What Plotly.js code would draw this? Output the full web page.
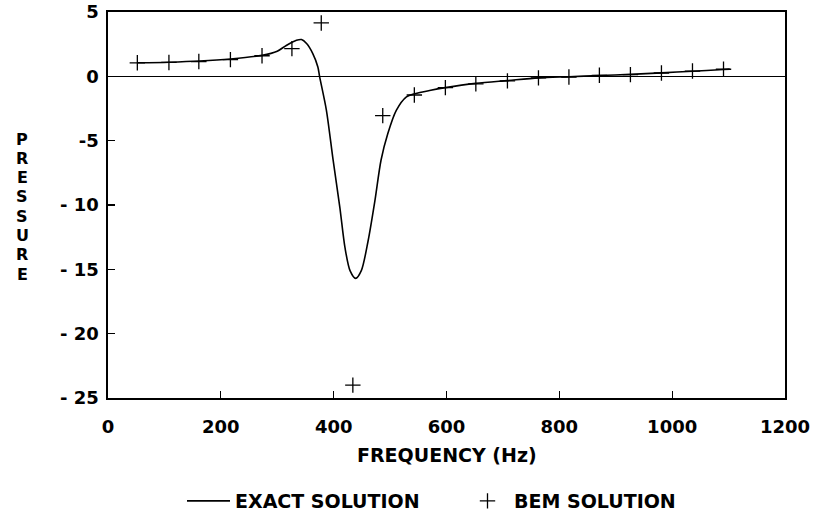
<!DOCTYPE html>
<html>
<head>
<meta charset="utf-8">
<script src="https://cdn.plot.ly/plotly-3.0.1.min.js"></script>
<style>
html,body{margin:0;padding:0;background:#fff;}
#chart{width:817px;height:521px;}
</style>
</head>
<body>
<div id="chart"></div>
<script>
// Exact solution
var exactFreq = [52, 108, 162, 217, 273, 300, 316, 334, 343, 352, 363, 372, 375, 387, 399, 411, 420, 429, 439, 449, 461, 473, 484, 496, 511, 529, 544, 570, 598, 652, 708, 763, 817, 871, 926, 981, 1036, 1091, 1102];
var exactPressure = [1.05, 1.1, 1.19, 1.35, 1.63, 1.95, 2.4, 2.8, 2.86, 2.55, 1.77, 0.73, 0.0, -2.6, -6.5, -10.2, -13.3, -15.1, -15.7, -15.1, -12.8, -9.7, -6.5, -4.45, -2.65, -1.6, -1.35, -1.1, -0.88, -0.55, -0.33, -0.12, -0.03, 0.06, 0.15, 0.27, 0.4, 0.53, 0.56];
// BEM solution
var bemFreq = [52, 108, 161, 217, 273, 326, 378, 434, 487, 543, 598, 652, 708, 763, 817, 871, 926, 981, 1036, 1091];
var bemPressure = [1.05, 1.08, 1.15, 1.3, 1.6, 2.15, 4.15, -24.0, -3.05, -1.45, -0.88, -0.58, -0.35, -0.12, -0.05, 0.08, 0.13, 0.26, 0.41, 0.55];
// Axis ticks
var xTickVals = [0, 200, 400, 600, 800, 1000, 1200];
var xTickText = ["0", "200", "400", "600", "800", "1000", "1200"];
var yTickVals = [5, 0, -5, -10, -15, -20, -25];
var yTickText = ["5", "0", "-5", "- 10", "- 15", "- 20", "- 25"];
var seriesNames = ["EXACT SOLUTION", "BEM SOLUTION"];
var xTitle = "FREQUENCY (Hz)";
var yTitle = "PRESSURE";

var FONT = "DejaVu Sans, Verdana, sans-serif";
var PLOT_H = 386, PLOT_W = 677;
var traces = [
  {x: exactFreq, y: exactPressure, mode: "lines", name: seriesNames[0], legend: "legend",
   line: {color: "#000", width: 1.6, shape: "spline", smoothing: 0.8}},
  {x: bemFreq, y: bemPressure, mode: "markers", name: seriesNames[1], legend: "legend2",
   marker: {symbol: "cross-thin", size: 11, color: "#000", line: {color: "#000", width: 1.3}}}
];
var legFont = {family: FONT, size: 19, color: "#000", weight: "bold"};
var annotations = [{
  text: xTitle, xref: "paper", yref: "paper",
  x: 0.5, y: (398 - 455) / PLOT_H, xanchor: "center", yanchor: "middle", showarrow: false,
  font: {family: FONT, size: 19, weight: "bold"}
}];
// vertical stacked y-axis title, one letter per line
yTitle.split("").forEach(function (ch, i) {
  annotations.push({
    text: ch, xref: "paper", yref: "paper",
    x: (22 - 108) / PLOT_W, y: (398 - (139 + i * 19.3)) / PLOT_H,
    xanchor: "center", yanchor: "middle", showarrow: false,
    font: {family: FONT, size: 16, weight: "bold"}
  });
});
var layout = {
  width: 817, height: 521,
  margin: {l: 108, r: 32, t: 12, b: 123, autoexpand: false},
  paper_bgcolor: "#fff", plot_bgcolor: "#fff",
  font: {family: FONT, size: 18, color: "#000", weight: "bold"},
  showlegend: true,
  legend: {orientation: "h", x: (182 - 108) / PLOT_W, xanchor: "left", y: (398 - 501) / PLOT_H, yanchor: "middle",
           font: legFont, itemwidth: 43, bgcolor: "rgba(0,0,0,0)"},
  legend2: {orientation: "h", x: (461 - 108) / PLOT_W, xanchor: "left", y: (398 - 501) / PLOT_H, yanchor: "middle",
           font: legFont, itemwidth: 43, bgcolor: "rgba(0,0,0,0)"},
  xaxis: {range: [0, 1200], tickvals: xTickVals, ticktext: xTickText,
          ticks: "inside", ticklen: 7, tickwidth: 1.2, tickcolor: "#000",
          showline: true, linecolor: "#000", linewidth: 1.6, mirror: true,
          showgrid: false, zeroline: false, ticklabelstandoff: 12,
          tickfont: {family: FONT, size: 18, weight: "bold"}},
  yaxis: {range: [-25, 5], tickvals: yTickVals, ticktext: yTickText,
          ticks: "inside", ticklen: 7, tickwidth: 1.2, tickcolor: "#000",
          showline: true, linecolor: "#000", linewidth: 1.6, mirror: true,
          showgrid: false, zeroline: true, zerolinecolor: "#000", zerolinewidth: 1.6,
          ticklabelstandoff: 4,
          tickfont: {family: FONT, size: 18, weight: "bold"}},
  annotations: annotations
};
Plotly.newPlot("chart", traces, layout, {displayModeBar: false, staticPlot: true});
</script>
</body>
</html>
